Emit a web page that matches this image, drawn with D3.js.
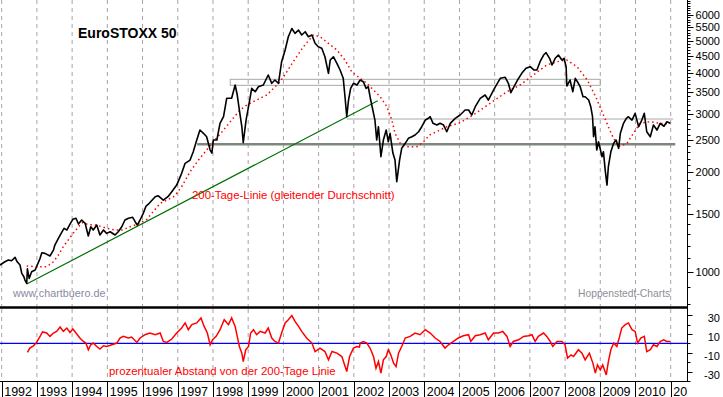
<!DOCTYPE html>
<html>
<head>
<meta charset="utf-8">
<script src="https://cdn.jsdelivr.net/npm/d3@7.9.0/dist/d3.min.js"></script>
<style>
  body { margin: 0; background: #fff; }
  svg { display: block; font-family: "Liberation Sans", Arial, sans-serif; }
</style>
</head>
<body>
<svg id="chart" width="723" height="397"></svg>
<script>
// EuroSTOXX 50, daily close (decimal years)
const priceTime = [1991.95,1992.09,1992.19,1992.28,1992.38,1992.44,1992.52,1992.57,1992.63,1992.66,1992.71,1992.73,1992.78,1992.85,1992.95,1992.99,
  1993.09,1993.14,1993.23,1993.37,1993.47,1993.51,1993.61,1993.70,1993.77,1993.85,1993.94,1994.02,1994.11,1994.18,1994.27,1994.37,1994.46,1994.53,
  1994.60,1994.70,1994.79,1994.89,1994.98,1995.08,1995.22,1995.31,1995.41,1995.50,1995.60,1995.72,1995.79,1995.85,1995.93,1996.02,1996.10,1996.19,
  1996.36,1996.44,1996.59,1996.72,1996.83,1996.97,1997.11,1997.21,1997.35,1997.44,1997.54,1997.63,1997.73,1997.82,1997.92,1997.97,1998.01,1998.11,
  1998.20,1998.30,1998.39,1998.53,1998.63,1998.69,1998.75,1998.82,1998.86,1998.94,1999.01,1999.10,1999.20,1999.29,1999.43,1999.57,1999.67,1999.76,
  1999.86,1999.95,2000.05,2000.14,2000.24,2000.33,2000.43,2000.52,2000.62,2000.71,2000.81,2000.90,2000.99,2001.09,2001.18,2001.28,2001.33,2001.42,
  2001.52,2001.61,2001.70,2001.75,2001.80,2001.85,2001.91,2001.99,2002.09,2002.18,2002.27,2002.35,2002.41,2002.48,2002.54,2002.60,2002.65,2002.70,
  2002.77,2002.84,2002.92,2002.98,2003.03,2003.11,2003.17,2003.22,2003.30,2003.36,2003.46,2003.55,2003.65,2003.74,2003.84,2003.93,2004.03,2004.12,
  2004.17,2004.25,2004.36,2004.45,2004.55,2004.64,2004.74,2004.88,2005.02,2005.16,2005.26,2005.35,2005.45,2005.59,2005.73,2005.82,2005.92,2006.01,
  2006.16,2006.30,2006.39,2006.46,2006.55,2006.65,2006.77,2006.89,2007.01,2007.12,2007.20,2007.29,2007.39,2007.46,2007.56,2007.63,2007.72,2007.81,
  2007.91,2007.97,2008.03,2008.05,2008.14,2008.22,2008.29,2008.35,2008.43,2008.51,2008.57,2008.67,2008.73,2008.78,2008.81,2008.85,2008.90,2008.95,
  2009.05,2009.09,2009.14,2009.19,2009.23,2009.30,2009.38,2009.45,2009.52,2009.57,2009.66,2009.74,2009.80,2009.90,2009.99,2010.09,2010.18,2010.25,
  2010.32,2010.42,2010.51,2010.61,2010.70,2010.81,2010.89,2010.99];
const priceClose = [1048,1072,1085,1080,1106,1072,1048,989,966,944,922,1020,955,1000,1012,1036,
  1098,1142,1137,1116,1163,1205,1262,1313,1354,1338,1395,1442,1452,1395,1435,1402,1283,1369,
  1338,1385,1292,1338,1307,1322,1292,1322,1369,1435,1452,1462,1418,1385,1435,1503,1582,1612,
  1688,1700,1649,1688,1748,1831,1987,2131,2180,2310,2507,2688,2627,2565,2338,2289,2507,2507,
  2817,2950,3354,3354,3680,3432,3091,2751,2460,2882,3163,3596,3512,3636,3680,3946,3724,3811,
  3724,4330,4700,5155,5460,5278,5400,5216,5338,5155,5216,4923,4807,4754,4483,3993,4381,4483,
  4282,4086,3856,3391,2950,3314,3596,3724,3680,3811,3766,3596,3636,3314,3091,2882,2507,2751,
  2231,2507,2688,2477,2627,2289,2180,1874,2180,2366,2450,2537,2565,2596,2656,2751,2882,2917,
  2950,2817,2783,2817,2783,2656,2817,2917,2985,3091,3091,2985,3163,3354,3432,3314,3473,3621,
  3856,3883,3724,3487,3636,3811,3993,4135,4182,4086,4086,4330,4537,4611,4434,4231,4434,4537,
  4381,4434,4182,3654,3811,3512,3856,3766,3636,3391,3391,3314,3163,2950,2565,2751,2338,2477,
  2231,2310,2033,1831,2081,2310,2450,2507,2366,2627,2817,2917,2950,2882,3020,2751,2882,3020,
  2656,2565,2783,2688,2817,2760,2849,2817];

// 200-Tage-Linie
const maTime = [1992.71,1992.99,1993.28,1993.47,1993.61,1993.75,1993.89,1994.03,1994.18,1994.30,1994.45,1994.70,1994.98,1995.22,1995.41,1995.65,
  1995.88,1996.12,1996.50,1996.88,1996.97,1997.11,1997.35,1997.59,1997.82,1998.01,1998.30,1998.53,1998.77,1998.96,1999.24,1999.53,1999.72,1999.91,
  2000.10,2000.28,2000.57,2000.85,2001.04,2001.28,2001.52,2001.75,2001.94,2002.18,2002.37,2002.56,2002.75,2002.94,2003.08,2003.17,2003.32,2003.51,
  2003.79,2003.98,2004.15,2004.64,2005.02,2005.39,2005.87,2006.35,2006.72,2007.10,2007.48,2007.77,2008.05,2008.34,2008.63,2008.87,2009.09,2009.33,
  2009.52,2009.76,2009.94,2010.13,2010.42,2010.70,2010.99];
const maValue = [1041,1036,1036,1072,1124,1191,1248,1307,1369,1410,1390,1385,1354,1338,1338,1369,
  1395,1442,1612,1688,1728,1810,2009,2180,2338,2477,2688,2882,3091,3200,3314,3432,3596,3766,
  4038,4330,4807,5216,5155,4923,4698,4381,4038,3856,3724,3554,3391,3163,2882,2627,2450,2392,
  2392,2477,2596,2751,2829,2985,3239,3512,3680,3946,4231,4330,4381,4182,3811,3391,2985,2596,
  2392,2450,2627,2817,2849,2817,2803];

// prozentualer Abstand von der 200-Tage-Linie
const devTime = [1992.73,1992.80,1992.90,1992.99,1993.09,1993.16,1993.28,1993.37,1993.47,1993.56,1993.66,1993.75,1993.85,1993.94,1994.02,1994.11,
  1994.22,1994.32,1994.39,1994.46,1994.53,1994.60,1994.70,1994.79,1994.89,1994.98,1995.13,1995.27,1995.36,1995.45,1995.60,1995.69,1995.84,1995.93,
  1996.07,1996.21,1996.36,1996.50,1996.59,1996.69,1996.83,1996.97,1997.11,1997.21,1997.30,1997.40,1997.54,1997.66,1997.75,1997.84,1997.92,1997.99,
  1998.09,1998.20,1998.32,1998.44,1998.53,1998.63,1998.69,1998.75,1998.82,1998.86,1998.93,1999.01,1999.07,1999.15,1999.24,1999.34,1999.48,1999.57,
  1999.67,1999.76,1999.86,1999.95,2000.05,2000.14,2000.24,2000.33,2000.43,2000.52,2000.66,2000.81,2000.90,2001.04,2001.18,2001.28,2001.38,2001.52,
  2001.66,2001.80,2001.88,2001.99,2002.09,2002.16,2002.18,2002.27,2002.37,2002.46,2002.56,2002.63,2002.70,2002.77,2002.84,2002.92,2002.98,2003.05,
  2003.13,2003.20,2003.27,2003.36,2003.46,2003.60,2003.74,2003.88,2004.03,2004.17,2004.31,2004.45,2004.59,2004.69,2004.83,2004.97,2005.11,2005.26,
  2005.32,2005.45,2005.59,2005.73,2005.82,2005.97,2006.11,2006.23,2006.35,2006.44,2006.53,2006.68,2006.82,2006.96,2007.06,2007.15,2007.24,2007.39,
  2007.48,2007.58,2007.65,2007.77,2007.91,2008.00,2008.07,2008.17,2008.24,2008.38,2008.48,2008.57,2008.69,2008.79,2008.86,2008.92,2009.00,2009.07,
  2009.17,2009.23,2009.30,2009.38,2009.47,2009.55,2009.61,2009.71,2009.80,2009.90,2009.99,2010.06,2010.15,2010.25,2010.32,2010.42,2010.51,2010.61,
  2010.70,2010.80,2010.89,2010.99];
const devValue = [-9.7,-5,-2.6,1,7.4,12.1,11,7.4,11,12.7,17.4,12.7,16.3,11.6,15.3,11,
  5.7,2,0.3,-6.8,-1.5,0.3,-3.3,-6.1,-2.6,-3.3,-1.5,0.3,5.7,7.4,5.7,6.7,1,5.7,
  9.2,11,9.2,11,2,1,4.6,11,16.3,21.7,14.5,19.9,21.7,27,18,11,-1.5,3.8,
  7.4,14.5,25.2,19.9,27,18,7.4,-3.3,-10.4,-19.3,-6.8,-3.3,11,14.5,9.2,12.7,11,16.3,
  5.7,2,0.3,11,21.7,25.2,29.5,23.4,18,12.7,5.7,0.3,-8.7,-5,-8.7,-17.5,-8.7,-10.4,
  -14,-30,-14,-5,-3.3,-4,0.3,2,0.3,-5,-14,-26.4,-19.3,-31.7,-17.5,-14,-6.8,-12.2,
  -21,-24.7,-10.4,-3.3,5.7,7.4,11,9.2,14.5,11,5.7,2,-5,-1.5,2,5.7,8.1,9.2,
  2,8.1,9.2,11,3.8,11,11,12.7,7.4,-3.3,2,3.8,7.4,8.1,9.2,2,7.4,11,
  7.4,2,-3.3,2,2,-1.5,-15.7,-12.2,-14,-6.8,-10.4,-17.5,-10.4,-21,-31.7,-22.9,-28.2,-22.9,
  -33.5,-19.3,-6.8,0.3,-3.3,7.4,16.3,19.9,21.7,14.5,12.7,0.3,5.7,7.4,-8.7,-6.8,-1.5,-3.3,
  2,3.8,2,2];

// annotations drawn by the chartist: [from, to, level]
const supportLine = [1997.55, 2011.13, 2433];
const resistanceBox = [1998.49, 2009.0, 3672, 3830];
const middleLine = [2001.80, 2011.07, 2903];
const trendLine = [[1992.71, 918], [2002.68, 3298]];

const years = d3.range(1992, 2012);
const priceTicks = d3.range(800, 6700, 100);
const priceLabels = [1000, 1500, 2000, 2500, 3000, 3500, 4000, 4500, 5000, 5500, 6000];
const devTicks = d3.range(-40, 31, 10);
const devLabels = [30, 10, -10, -30];

const svg = d3.select('#chart');
const axisX = 687.5;

const x = d3.scaleLinear().domain([1992, 2011]).range([1.7, 670.7]);
const y = d3.scaleLog().domain([782, 6660]).range([307, 0]);
const yDev = d3.scaleLinear().domain([-40, 38]).range([381, 307.6]);

svg.append('clipPath').attr('id', 'plot')
    .append('rect').attr('x', 0).attr('y', 0).attr('width', axisX).attr('height', 397);

// year grid
[[0, 306], [309, 381]].forEach(([y0, y1]) => {
    svg.append('g').selectAll('line')
        .data(years)
        .enter()
        .append('line')
        .attr('x1', (d) => x(d)).attr('x2', (d) => x(d))
        .attr('y1', y0).attr('y2', y1)
        .attr('stroke', '#aaa0aa')
        .attr('stroke-dasharray', '4,4');
});

// annotations
svg.append('line')
    .attr('x1', x(supportLine[0])).attr('x2', x(supportLine[1]))
    .attr('y1', y(supportLine[2])).attr('y2', y(supportLine[2]))
    .attr('stroke', '#7c887c').attr('stroke-width', 2.5);
svg.append('rect')
    .attr('x', x(resistanceBox[0])).attr('width', x(resistanceBox[1]) - x(resistanceBox[0]))
    .attr('y', y(resistanceBox[3])).attr('height', y(resistanceBox[2]) - y(resistanceBox[3]))
    .attr('fill', 'none').attr('stroke', '#a4aaa4');
svg.append('line')
    .attr('x1', x(middleLine[0])).attr('x2', x(middleLine[1]))
    .attr('y1', y(middleLine[2])).attr('y2', y(middleLine[2]))
    .attr('stroke', '#a8a8a8');
svg.append('line')
    .attr('x1', x(trendLine[0][0])).attr('y1', y(trendLine[0][1]))
    .attr('x2', x(trendLine[1][0])).attr('y2', y(trendLine[1][1]))
    .attr('stroke', '#007000').attr('stroke-width', 1.2);

// 200-day line, dotted
const maLine = d3.line().x((d) => x(maTime[d])).y((d) => y(maValue[d]));
svg.append('path')
    .attr('d', maLine(d3.range(maTime.length)))
    .attr('fill', 'none')
    .attr('stroke', '#ff0000')
    .attr('stroke-width', 1.5)
    .attr('stroke-dasharray', '1.5,3');

// index
const priceLine = d3.line().x((d) => x(priceTime[d])).y((d) => y(priceClose[d]));
svg.append('path')
    .attr('d', priceLine(d3.range(priceTime.length)))
    .attr('fill', 'none')
    .attr('stroke', '#000')
    .attr('stroke-width', 1.6)
    .attr('stroke-linejoin', 'round');

// lower panel
svg.append('line')
    .attr('x1', 0).attr('x2', axisX)
    .attr('y1', yDev(0)).attr('y2', yDev(0))
    .attr('stroke', '#0000ff').attr('stroke-width', 1.2);

const devLine = d3.line().x((d) => x(devTime[d])).y((d) => yDev(devValue[d]));
svg.append('path')
    .attr('d', devLine(d3.range(devTime.length)))
    .attr('fill', 'none')
    .attr('stroke', '#ff0000')
    .attr('stroke-width', 1.5);

// frame
svg.append('line').attr('x1', 0).attr('x2', axisX).attr('y1', 307.5).attr('y2', 307.5)
    .attr('stroke', '#000').attr('stroke-width', 2.5);
svg.append('line').attr('x1', 0).attr('x2', axisX).attr('y1', 381.5).attr('y2', 381.5)
    .attr('stroke', '#000');
svg.append('line').attr('x1', axisX).attr('x2', axisX).attr('y1', 0).attr('y2', 382)
    .attr('stroke', '#000');

// right price axis
svg.append('g').selectAll('line')
    .data(priceTicks.filter((d) => y(d) >= 0 && y(d) <= 306))
    .enter()
    .append('line')
    .attr('x1', axisX).attr('x2', (d) => axisX + (priceLabels.includes(d) ? 6 : 3))
    .attr('y1', (d) => Math.round(y(d)) + 0.5).attr('y2', (d) => Math.round(y(d)) + 0.5)
    .attr('stroke', '#000');
svg.append('g').selectAll('text')
    .data(priceLabels)
    .enter()
    .append('text')
    .attr('x', 720).attr('y', (d) => y(d))
    .attr('dy', '0.36em')
    .attr('text-anchor', 'end')
    .attr('font-size', 11)
    .text((d) => d);

// right deviation axis
svg.append('g').selectAll('line')
    .data(devTicks)
    .enter()
    .append('line')
    .attr('x1', axisX).attr('x2', (d) => axisX + (devLabels.includes(d) ? 5 : 3))
    .attr('y1', (d) => Math.round(yDev(d)) + 0.5).attr('y2', (d) => Math.round(yDev(d)) + 0.5)
    .attr('stroke', '#000');
svg.append('g').selectAll('text')
    .data(devLabels)
    .enter()
    .append('text')
    .attr('x', 720).attr('y', (d) => yDev(d) + 3)
    .attr('dy', '0.36em')
    .attr('text-anchor', 'end')
    .attr('font-size', 11)
    .text((d) => d);

// year row
const yearRow = svg.append('g').attr('clip-path', 'url(#plot)');
yearRow.selectAll('line')
    .data(years)
    .enter()
    .append('line')
    .attr('x1', (d) => Math.round(x(d)) + 0.5).attr('x2', (d) => Math.round(x(d)) + 0.5)
    .attr('y1', 382).attr('y2', 397)
    .attr('stroke', '#000');
yearRow.selectAll('text')
    .data(years)
    .enter()
    .append('text')
    .attr('x', (d) => x(d) + 2.5)
    .attr('y', 395.5)
    .attr('font-size', 12.5)
    .text((d) => d);

// texts
svg.append('text').attr('x', 78).attr('y', 38)
    .attr('font-size', 14).attr('font-weight', 'bold')
    .text('EuroSTOXX 50');
svg.append('text').attr('x', 192).attr('y', 199)
    .attr('font-size', 11.4).attr('fill', '#ff0000')
    .text('200-Tage-Linie (gleitender Durchschnitt)');
svg.append('text').attr('x', 13).attr('y', 297)
    .attr('font-size', 10.8).attr('fill', '#8a8aa2')
    .text('www.chartbuero.de');
svg.append('text').attr('x', 578).attr('y', 297)
    .attr('font-size', 10.3).attr('fill', '#8e8e96')
    .text('Hoppenstedt-Charts');
svg.append('text').attr('x', 109).attr('y', 375)
    .attr('font-size', 11.4).attr('fill', '#ff0000')
    .text('prozentualer Abstand von der 200-Tage Linie');
</script>
</body>
</html>
